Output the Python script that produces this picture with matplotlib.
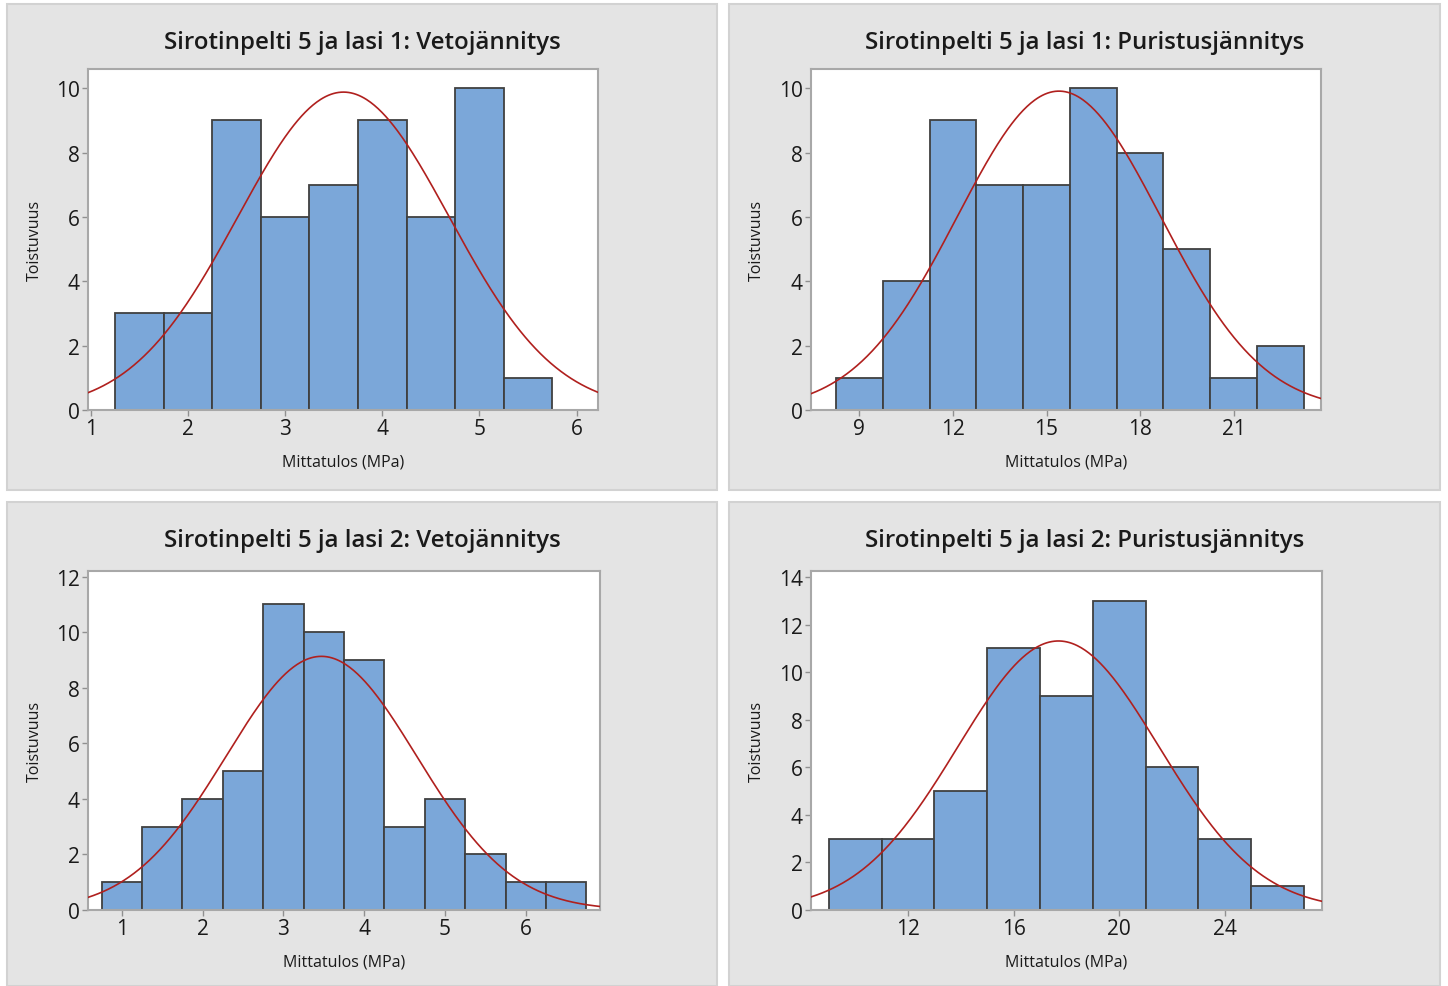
import numpy as np
import matplotlib
matplotlib.use("Agg")
import matplotlib.pyplot as plt
from matplotlib.patches import Rectangle

plt.rcParams['font.family'] = ['Open Sans', 'DejaVu Sans']

# data
titles = ["Sirotinpelti 5 ja lasi 1: Vetojännitys",
          "Sirotinpelti 5 ja lasi 1: Puristusjännitys",
          "Sirotinpelti 5 ja lasi 2: Vetojännitys",
          "Sirotinpelti 5 ja lasi 2: Puristusjännitys"]

edges1 = [1.25, 1.75, 2.25, 2.75, 3.25, 3.75, 4.25, 4.75, 5.25, 5.75]
counts1 = [3, 3, 9, 6, 7, 9, 6, 10, 1]
mean1, sd1 = 3.60, 1.09

edges2 = [8.25, 9.75, 11.25, 12.75, 14.25, 15.75, 17.25, 18.75, 20.25, 21.75, 23.25]
counts2 = [1, 4, 9, 7, 7, 10, 8, 5, 1, 2]
mean2, sd2 = 15.4, 3.26

edges3 = [0.75, 1.25, 1.75, 2.25, 2.75, 3.25, 3.75, 4.25, 4.75, 5.25, 5.75, 6.25, 6.75]
counts3 = [1, 3, 4, 5, 11, 10, 9, 3, 4, 2, 1, 1]
mean3, sd3 = 3.47, 1.18

edges4 = [9, 11, 13, 15, 17, 19, 21, 23, 25, 27]
counts4 = [3, 3, 5, 11, 9, 13, 6, 3, 1]
mean4, sd4 = 17.7, 3.81

xticks = [[1, 2, 3, 4, 5, 6], [9, 12, 15, 18, 21], [1, 2, 3, 4, 5, 6], [12, 16, 20, 24]]
yticks = [[0, 2, 4, 6, 8, 10], [0, 2, 4, 6, 8, 10], [0, 2, 4, 6, 8, 10, 12], [0, 2, 4, 6, 8, 10, 12, 14]]
xlims = [(0.97, 6.22), (7.45, 23.8), (0.58, 6.92), (8.33, 27.68)]
ylims = [(0, 10.6), (0, 10.6), (0, 12.2), (0, 14.25)]

W, H = 1448, 987
fig = plt.figure(figsize=(W / 100, H / 100), dpi=100)

def fx(px):
    return px / W

def fy(py):
    return 1 - py / H

# panel boxes (pixels: left, top, right, bottom) and plot areas
panels = [(7, 5, 717, 491), (729, 5, 1440, 491), (7, 503, 717, 987), (729, 503, 1440, 987)]
plots = [(88, 70, 598, 411), (811, 70, 1321, 411), (88, 572, 600, 911), (811, 572, 1322, 911)]

for p in panels:
    l, t, r, b = p
    fig.patches.append(Rectangle((fx(l), fy(b)), fx(r - l), (b - t) / H,
                                 transform=fig.transFigure, facecolor="#e4e4e4",
                                 edgecolor="#d2d2d2", linewidth=1.5, zorder=-5))

data = [(edges1, counts1, mean1, sd1), (edges2, counts2, mean2, sd2),
        (edges3, counts3, mean3, sd3), (edges4, counts4, mean4, sd4)]

for i in range(4):
    edges, counts, mu, sd = data[i]
    l, t, r, b = plots[i]
    ax = fig.add_axes([fx(l), fy(b), fx(r - l), (b - t) / H])
    ax.set_facecolor("white")
    widths = np.diff(edges)
    ax.bar(edges[:-1], counts, width=widths, align="edge", color="#7ba7d9",
           edgecolor="#404040", linewidth=1.3, zorder=2)
    n = sum(counts)
    w = widths[0]
    xs = np.linspace(xlims[i][0], xlims[i][1], 400)
    ys = n * w * np.exp(-0.5 * ((xs - mu) / sd) ** 2) / (sd * np.sqrt(2 * np.pi))
    ax.plot(xs, ys, color="#b0201e", linewidth=1.2, zorder=3)
    ax.set_xlim(xlims[i])
    ax.set_ylim(ylims[i])
    ax.set_xticks(xticks[i])
    ax.set_yticks(yticks[i])
    ax.tick_params(labelsize=15, length=4, width=1, color="#909090", pad=2,
                   labelcolor="#1a1a1a")
    for s in ax.spines.values():
        s.set_color("#a8a8a8")
        s.set_linewidth(1.5)

    pl, pt, pr, pb = panels[i]
    fig.text(fx((pl + pr) / 2), fy(pt + 38), titles[i], ha="center", va="center",
             fontsize=17.3, fontweight="semibold", color="#1a1a1a")
    fig.text(fx((l + r) / 2), fy(b + 52), "Mittatulos (MPa)", ha="center",
             va="center", fontsize=11.5, color="#1a1a1a")
    fig.text(fx(pl + 28), fy((t + b) / 2), "Toistuvuus", ha="center", va="center",
             rotation=90, fontsize=11.5, color="#1a1a1a")

fig.savefig("out.png", dpi=100, facecolor="white")
